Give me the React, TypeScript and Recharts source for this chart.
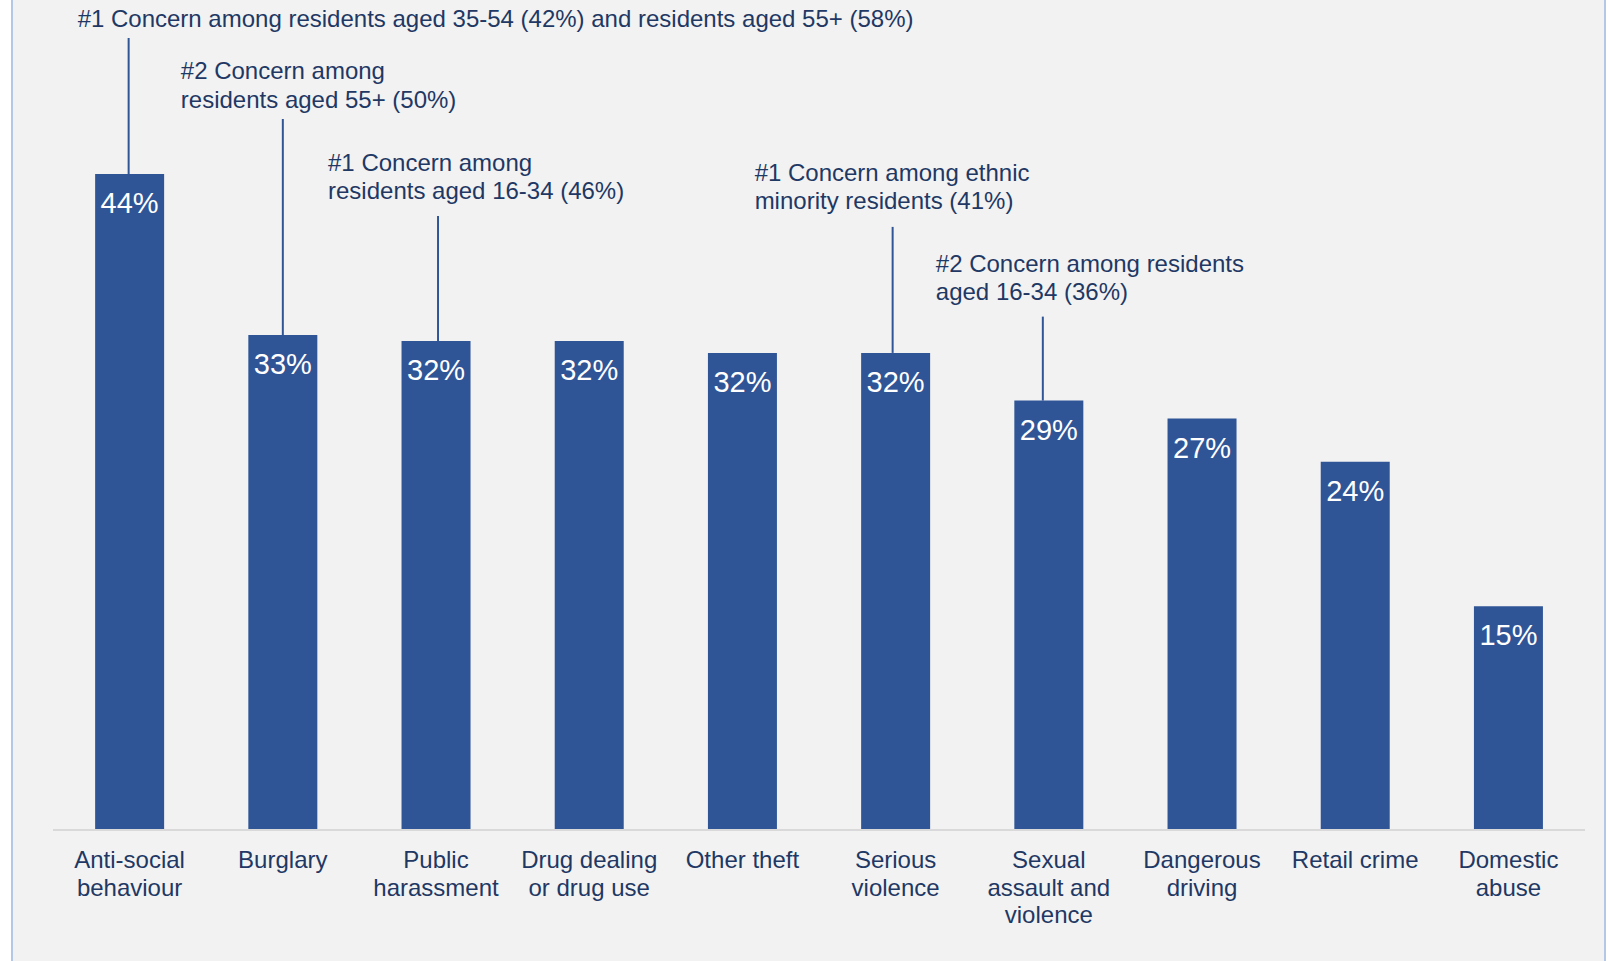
import React from 'react';
import { BarChart, Bar, XAxis, YAxis, LabelList } from 'recharts';

const BAR_COLOR = '#2F5597';
const TEXT_COLOR = '#1F3864';
const FONT = '"Liberation Sans", Arial, sans-serif';

const CATEGORIES = [
  'Anti-social behaviour',
  'Burglary',
  'Public harassment',
  'Drug dealing or drug use',
  'Other theft',
  'Serious violence',
  'Sexual assault and violence',
  'Dangerous driving',
  'Retail crime',
  'Domestic abuse',
];

// how each category label wraps under the axis
const TICK_LINES = [
  ['Anti-social', 'behaviour'],
  ['Burglary'],
  ['Public', 'harassment'],
  ['Drug dealing', 'or drug use'],
  ['Other theft'],
  ['Serious', 'violence'],
  ['Sexual', 'assault and', 'violence'],
  ['Dangerous', 'driving'],
  ['Retail crime'],
  ['Domestic', 'abuse'],
];

const VALUES = [44, 33.2, 32.8, 32.8, 32.0, 32.0, 28.8, 27.6, 24.7, 15.0];
const VALUE_LABELS = ['44%', '33%', '32%', '32%', '32%', '32%', '29%', '27%', '24%', '15%'];

const NOTE_CATEGORIES = [
  'Anti-social behaviour',
  'Burglary',
  'Public harassment',
  'Serious violence',
  'Sexual assault and violence',
];
const NOTE_TEXT = [
  ['#1 Concern among residents aged 35-54 (42%) and residents aged 55+ (58%)'],
  ['#2 Concern among', 'residents aged 55+ (50%)'],
  ['#1 Concern among', 'residents aged 16-34 (46%)'],
  ['#1 Concern among ethnic', 'minority residents (41%)'],
  ['#2 Concern among residents', 'aged 16-34 (36%)'],
];
// leader length above the bar, leader x shift, text x offset from bar centre, gap from leader top to last line centre
const NOTE_LAYOUT = [
  { leader: 136, lx: -1, dx: -52, gap: 20 },
  { leader: 216, lx: 0, dx: -102, gap: 20 },
  { leader: 125, lx: 2, dx: -108, gap: 25 },
  { leader: 126, lx: -3, dx: -141, gap: 26 },
  { leader: 84, lx: -6, dx: -113, gap: 25 },
];

const data = CATEGORIES.map((c, i) => ({ category: c, value: VALUES[i] }));

const LINE_H = 27.7;

const CategoryTick = (props: any) => {
  const { x, y, index } = props;
  const lines = TICK_LINES[index] || [props.payload?.value];
  return (
    <text x={x} y={y + 38} textAnchor="middle" fill={TEXT_COLOR} fontSize={24} fontFamily={FONT}>
      {lines.map((l: string, i: number) => (
        <tspan key={i} x={x} dy={i === 0 ? 0 : LINE_H}>
          {l}
        </tspan>
      ))}
    </text>
  );
};

const BarLabel = (props: any) => {
  const { x, y, width, index } = props;
  const cx = x + width / 2;
  const noteIdx = NOTE_CATEGORIES.indexOf(CATEGORIES[index]);
  let note = null;
  if (noteIdx >= 0) {
    const lay = NOTE_LAYOUT[noteIdx];
    const lines = NOTE_TEXT[noteIdx];
    const top = y - lay.leader;
    const lastCenter = top - lay.gap;
    const firstBase = lastCenter - (lines.length - 1) * 28.5 + 8.5;
    note = (
      <g>
        <line x1={cx + lay.lx} x2={cx + lay.lx} y1={y} y2={top} stroke={BAR_COLOR} strokeWidth={2} />
        <text x={cx + lay.dx} y={firstBase} fill={TEXT_COLOR} fontSize={24} fontFamily={FONT}>
          {lines.map((l, i) => (
            <tspan key={i} x={cx + lay.dx} dy={i === 0 ? 0 : 28.5}>
              {l}
            </tspan>
          ))}
        </text>
      </g>
    );
  }
  return (
    <g>
      {note}
      <text x={cx} y={y + 39} textAnchor="middle" fill="#FFFFFF" fontSize={29} fontFamily={FONT}>
        {VALUE_LABELS[index]}
      </text>
    </g>
  );
};

export default function App() {
  return (
    <div style={{ position: 'fixed', left: 0, top: 0, width: 1613, height: 961, background: '#FFFFFF', overflow: 'hidden' }}>
      <div
        style={{
          position: 'absolute',
          left: 11,
          top: -10,
          width: 1591,
          height: 1000,
          background: '#F2F2F2',
          borderLeft: '2px solid #B4C7E7',
          borderRight: '2px solid #B4C7E7',
        }}
      />
      <div style={{ position: 'absolute', left: 0, top: 0 }}>
        <BarChart
          width={1613}
          height={961}
          data={data}
          margin={{ top: 10, right: 28, bottom: 0, left: 53 }}
          barCategoryGap="27.5%"
          style={{ overflow: 'visible' }}
        >
          <XAxis
            dataKey="category"
            interval={0}
            tickLine={false}
            tickSize={0}
            tickMargin={0}
            axisLine={{ stroke: '#D9D9D9', strokeWidth: 2 }}
            tick={<CategoryTick />}
            height={131}
          />
          <YAxis hide domain={[0, 55]} />
          <Bar dataKey="value" fill={BAR_COLOR} isAnimationActive={false}>
            <LabelList dataKey="value" content={<BarLabel />} />
          </Bar>
        </BarChart>
      </div>
    </div>
  );
}
